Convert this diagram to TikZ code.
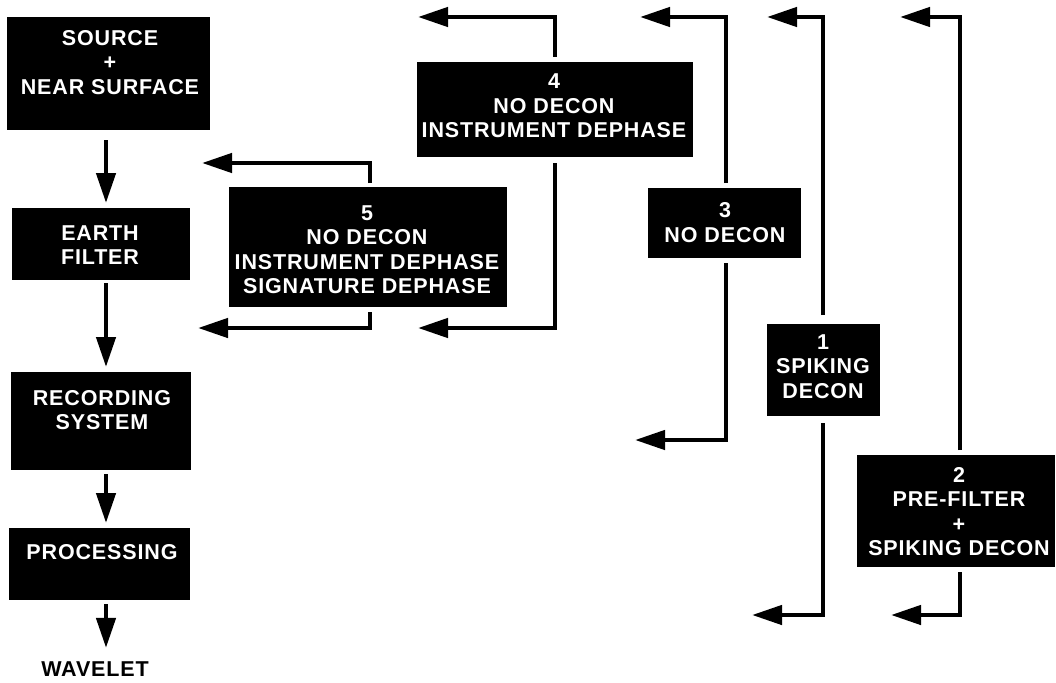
\documentclass[tikz,border=0pt]{standalone}
\usepackage{fontspec}
\setmainfont{Liberation Sans}
\newfontfamily\lblfont{Liberation Sans}[LetterSpace=4]
\usetikzlibrary{arrows.meta}
\begin{document}
\begin{tikzpicture}[x=1pt,y=-1pt,
  blk/.style={fill=black, draw=none, inner sep=0pt, anchor=north west},
  lbl/.style={text=white, font=\lblfont\bfseries\fontsize{21.5}{24.5}\selectfont, align=center, inner sep=0pt, anchor=center},
  flow/.style={line width=4.5pt, -{Triangle[length=30pt,width=19pt]}},
]
\useasboundingbox (0,0) rectangle (1056,682);
% left column boxes
\node[blk, minimum width=203pt, minimum height=113pt] (src) at (7,17) {};
\node[lbl] (srcl) at (110,62.5) {SOURCE\\+\\NEAR SURFACE};
\node[blk, minimum width=178pt, minimum height=72pt] (earth) at (12,208) {};
\node[lbl] (earthl) at (100,245) {EARTH\\FILTER};
\node[blk, minimum width=180pt, minimum height=98pt] (rec) at (11,372) {};
\node[lbl] (recl) at (102,410) {RECORDING\\SYSTEM};
\node[blk, minimum width=181pt, minimum height=72pt] (proc) at (9,528) {};
\node[lbl] (procl) at (102,552.5) {PROCESSING};
\node[lbl, text=black] (wav) at (95,669.5) {WAVELET};
\coordinate (colx) at (106,0);
\draw[flow, shorten <=10pt, shorten >=5pt] (src.south -| colx) -- (earth.north -| colx);
\draw[flow, shorten <=3pt, shorten >=5pt] (earth.south -| colx) -- (rec.north -| colx);
\draw[flow, shorten <=4pt, shorten >=5pt] (rec.south -| colx) -- (proc.north -| colx);
\draw[flow, shorten <=4pt, shorten >=14pt] (proc.south -| colx) -- (wav.north -| colx);
% processing alternative boxes
\node[blk, minimum width=278pt, minimum height=120pt] (b5) at (229,187) {};
\node[lbl] (b5l) at (367,249.5) {5\\NO DECON\\INSTRUMENT DEPHASE\\SIGNATURE DEPHASE};
\node[blk, minimum width=276pt, minimum height=95pt] (b4) at (417,62) {};
\node[lbl] (b4l) at (554,106) {4\\NO DECON\\INSTRUMENT DEPHASE};
\node[blk, minimum width=153pt, minimum height=70pt] (b3) at (648,188) {};
\node[lbl] (b3l) at (725,222.5) {3\\NO DECON};
\node[blk, minimum width=113pt, minimum height=92pt] (b1) at (767,324) {};
\node[lbl] (b1l) at (823,366.5) {1\\SPIKING\\DECON};
\node[blk, minimum width=198pt, minimum height=112pt] (b2) at (857,455) {};
\node[lbl] (b2l) at (959,511.5) {2\\PRE-FILTER\\+\\SPIKING DECON};
% loop columns and tips
\coordinate (c5) at (370,0);
\coordinate (c4) at (555,0);
\coordinate (c3) at (726,0);
\coordinate (c1) at (823,0);
\coordinate (c2) at (960,0);
\coordinate (t5a) at (202,163);
\coordinate (t5b) at (198,328);
\coordinate (t4a) at (418,17);
\coordinate (t4b) at (418,328);
\coordinate (t3a) at (640,17);
\coordinate (t3b) at (635,440);
\coordinate (t1a) at (767,17);
\coordinate (t1b) at (752,615);
\coordinate (t2a) at (900,17);
\coordinate (t2b) at (891,615);
\draw[flow, shorten <=4pt] (b5.north -| c5) |- (t5a);
\draw[flow, shorten <=5pt] (b5.south -| c5) |- (t5b);
\draw[flow, shorten <=5pt] (b4.north -| c4) |- (t4a);
\draw[flow, shorten <=6pt] (b4.south -| c4) |- (t4b);
\draw[flow, shorten <=5pt] (b3.north -| c3) |- (t3a);
\draw[flow, shorten <=5pt] (b3.south -| c3) |- (t3b);
\draw[flow, shorten <=9pt] (b1.north -| c1) |- (t1a);
\draw[flow, shorten <=7pt] (b1.south -| c1) |- (t1b);
\draw[flow, shorten <=5pt] (b2.north -| c2) |- (t2a);
\draw[flow, shorten <=5pt] (b2.south -| c2) |- (t2b);
\end{tikzpicture}
\end{document}
